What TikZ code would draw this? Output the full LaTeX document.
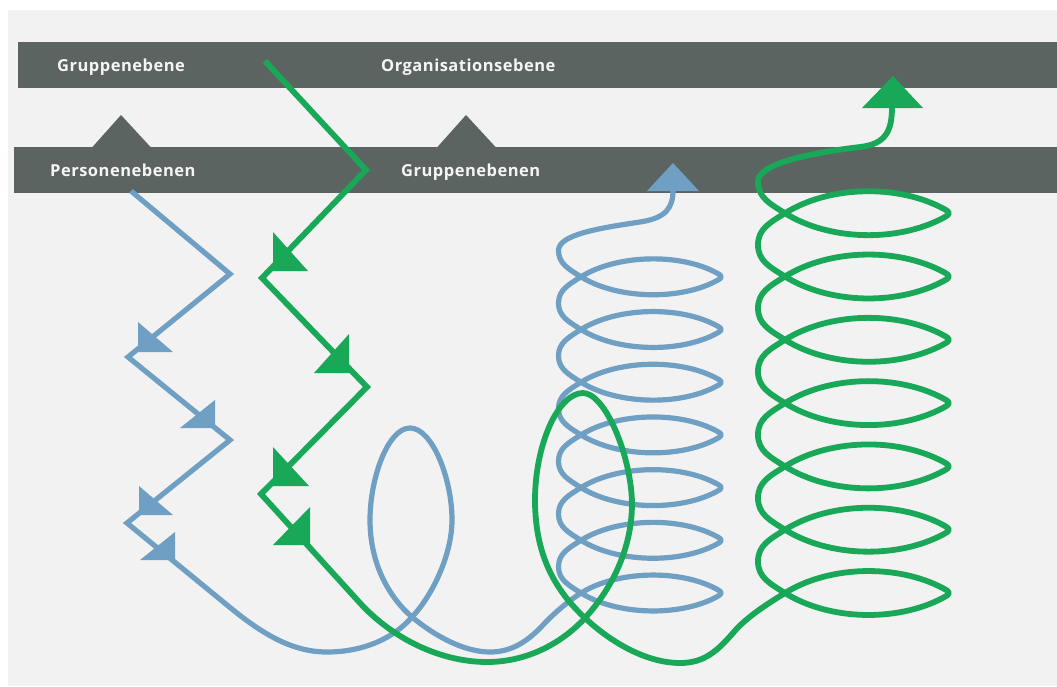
\documentclass[tikz,border=0pt]{standalone}
\usepackage{fontspec}
\setmainfont{Open Sans}[LetterSpace=3]
\definecolor{paper}{HTML}{F2F2F2}
\definecolor{bargray}{HTML}{5C6462}
\definecolor{labeltext}{HTML}{F5F5F5}
\definecolor{bluec}{HTML}{6F9FC2}
\definecolor{greenc}{HTML}{19A858}
\tikzset{
  levelbar/.style={fill=bargray},
  lbl/.style={text=labeltext, font=\bfseries\fontsize{16.5}{19}\selectfont, inner sep=0pt, anchor=base west},
  blueline/.style={draw=bluec, line width=5.2pt},
  greenline/.style={draw=greenc, line width=5.8pt},
  bluecoil/.style={blueline, line join=round},
  greencoil/.style={greenline, line join=round},
  bluehead/.style={fill=bluec},
  greenhead/.style={fill=greenc}
}
% coil geometry: crossing x, tip x, leftmost x, lowest crossing y, pitch,
% lens control length, lens angles at crossing / near tip,
% tip rounding (inset, half height, control length), left-arc control lengths
\def\bXc{581}\def\bXt{724}\def\bXl{558.5}\def\bY{593}\def\bP{52.7}
\def\bA{42}\def\bAl{32}\def\bBe{28}
\def\bT{8}\def\bH{4.25}\def\bK{8}\def\bC{15}\def\bD{13}
\def\gXc{785}\def\gXt{952}\def\gXl{758}\def\gY{593}\def\gP{63.3}
\def\gA{52}\def\gAl{32}\def\gBe{28}
\def\gT{9}\def\gH{4.8}\def\gK{9}\def\gC{18}\def\gD{16}
\begin{document}
\begin{tikzpicture}[x=1pt,y=-1pt]
\useasboundingbox (0,0) rectangle (1057,686);
% canvas
\fill[white] (0,0) rectangle (1057,686);
\fill[paper] (8,10) rectangle (1057,686);

% level bars with their small pointers
\fill[levelbar] (18,42) rectangle (1057,88);
\fill[levelbar] (14,147) rectangle (1057,193);
\fill[levelbar] (92,147.5) -- (121,115) -- (151,147.5) -- cycle;
\fill[levelbar] (437,147.5) -- (466,115) -- (496,147.5) -- cycle;

\node[lbl] (upperleft)  at (57,71)  {Gruppenebene};
\node[lbl] (upperright) at (381,71) {Organisationsebene};
\node[lbl] (lowerleft)  at (50,176) {Personenebenen};
\node[lbl] (lowerright) at (401,176) {Gruppenebenen};

% ---------------- blue path ----------------
\coordinate (p0) at (131,191);
\coordinate (p1) at (230,274);
\coordinate (p2) at (128,357);
\coordinate (p3) at (230,440);
\coordinate (p4) at (127,523);
\coordinate (p5) at (227,605);
\coordinate (bc) at (\bXc,\bY);
\draw[blueline] (p0) -- (p1) -- (p2) -- (p3) -- (p4) -- (p5)
  .. controls (262,634) and (292,652) .. (327,652)
  .. controls (365,652) and (395,637) .. (412,617)
  .. controls (432,596) and (452,555) .. (452,520)
  .. controls (452,478) and (432,428) .. (410,428)
  .. controls (388,428) and (370,478) .. (370,520)
  .. controls (370,565) and (390,598) .. (412,617)
  .. controls (436,637) and (465,652) .. (490,652)
  .. controls (512,652) and (528,641) .. (543,625)
  .. controls (555,612) and ({\bXc-12*cos(\bAl)},{\bY+12*sin(\bAl)}) .. (bc);
% blue coil: seven lenses joined by rounded left arcs
\draw[bluecoil] (bc)
  \foreach \k [evaluate=\k as \yy using \bY-\bP*\k] in {0,...,5} {
    .. controls ({\bXc+\bA*cos(\bAl)},{\yy-\bA*sin(\bAl)}) and ({\bXt-\bT-\bA*cos(\bBe)},{\yy-\bH-\bA*sin(\bBe)}) .. ({\bXt-\bT},{\yy-\bH})
    .. controls ({\bXt-\bT+\bK*cos(\bBe)},{\yy-\bH+\bK*sin(\bBe)}) and ({\bXt-\bT+\bK*cos(\bBe)},{\yy+\bH-\bK*sin(\bBe)}) .. ({\bXt-\bT},{\yy+\bH})
    .. controls ({\bXt-\bT-\bA*cos(\bBe)},{\yy+\bH+\bA*sin(\bBe)}) and ({\bXc+\bA*cos(\bAl)},{\yy+\bA*sin(\bAl)}) .. (\bXc,\yy)
    .. controls ({\bXc-\bC*cos(\bAl)},{\yy-\bC*sin(\bAl)}) and (\bXl,{\yy-\bP/2+\bD}) .. (\bXl,{\yy-\bP/2})
    .. controls (\bXl,{\yy-\bP/2-\bD}) and ({\bXc-\bC*cos(\bAl)},{\yy-\bP+\bC*sin(\bAl)}) .. (\bXc,{\yy-\bP})
  }
  \foreach \yy in {\bY-6*\bP} {
    .. controls ({\bXc+\bA*cos(\bAl)},{\yy-\bA*sin(\bAl)}) and ({\bXt-\bT-\bA*cos(\bBe)},{\yy-\bH-\bA*sin(\bBe)}) .. ({\bXt-\bT},{\yy-\bH})
    .. controls ({\bXt-\bT+\bK*cos(\bBe)},{\yy-\bH+\bK*sin(\bBe)}) and ({\bXt-\bT+\bK*cos(\bBe)},{\yy+\bH-\bK*sin(\bBe)}) .. ({\bXt-\bT},{\yy+\bH})
    .. controls ({\bXt-\bT-\bA*cos(\bBe)},{\yy+\bH+\bA*sin(\bBe)}) and ({\bXc+\bA*cos(\bAl)},{\yy+\bA*sin(\bAl)}) .. (\bXc,\yy)
    .. controls ({\bXc-\bC*cos(\bAl)},{\yy-\bC*sin(\bAl)}) and (\bXl,{\yy-\bP/2+\bD}) .. (\bXl,{\yy-\bP/2})
    .. controls (\bXl,{\yy-\bP/2-16}) and (600,228) .. (640,222)
  }
  .. controls (666,218) and (673,208) .. (673,190);
\fill[bluehead] (138,352) -- (138,322) -- (173,352) -- cycle;
\fill[bluehead] (215,428) -- (215,400) -- (180,428) -- cycle;
\fill[bluehead] (139,515) -- (139,486) -- (173,515) -- cycle;
\fill[bluehead] (175,560) -- (175,532) -- (140,560) -- cycle;
\fill[bluehead] (673,163) -- (647,191) -- (699,191) -- cycle;

% ---------------- green path ----------------
\coordinate (q0) at (265,61);
\coordinate (q1) at (366,170);
\coordinate (q2) at (262,278);
\coordinate (q3) at (367,387);
\coordinate (q4) at (261,494);
\coordinate (q5) at (360,603);
\coordinate (gc) at (\gXc,\gY);
\draw[greenline] (q0) -- (q1) -- (q2) -- (q3) -- (q4) -- (q5)
  .. controls (392,638) and (440,662) .. (487,662)
  .. controls (525,662) and (560,645) .. (585,618)
  .. controls (615,585) and (632,545) .. (632,503)
  .. controls (631,455) and (605,393) .. (583,393)
  .. controls (558,393) and (535,445) .. (535,500)
  .. controls (535,555) and (555,590) .. (585,618)
  .. controls (615,646) and (650,663) .. (680,663)
  .. controls (705,663) and (718,650) .. (733,633)
  .. controls (747,616) and ({\gXc-15*cos(\gAl)},{\gY+15*sin(\gAl)}) .. (gc);
% green coil
\draw[greencoil] (gc)
  \foreach \k [evaluate=\k as \yy using \gY-\gP*\k] in {0,...,5} {
    .. controls ({\gXc+\gA*cos(\gAl)},{\yy-\gA*sin(\gAl)}) and ({\gXt-\gT-\gA*cos(\gBe)},{\yy-\gH-\gA*sin(\gBe)}) .. ({\gXt-\gT},{\yy-\gH})
    .. controls ({\gXt-\gT+\gK*cos(\gBe)},{\yy-\gH+\gK*sin(\gBe)}) and ({\gXt-\gT+\gK*cos(\gBe)},{\yy+\gH-\gK*sin(\gBe)}) .. ({\gXt-\gT},{\yy+\gH})
    .. controls ({\gXt-\gT-\gA*cos(\gBe)},{\yy+\gH+\gA*sin(\gBe)}) and ({\gXc+\gA*cos(\gAl)},{\yy+\gA*sin(\gAl)}) .. (\gXc,\yy)
    .. controls ({\gXc-\gC*cos(\gAl)},{\yy-\gC*sin(\gAl)}) and (\gXl,{\yy-\gP/2+\gD}) .. (\gXl,{\yy-\gP/2})
    .. controls (\gXl,{\yy-\gP/2-\gD}) and ({\gXc-\gC*cos(\gAl)},{\yy-\gP+\gC*sin(\gAl)}) .. (\gXc,{\yy-\gP})
  }
  \foreach \yy in {\gY-6*\gP} {
    .. controls ({\gXc+\gA*cos(\gAl)},{\yy-\gA*sin(\gAl)}) and ({\gXt-\gT-\gA*cos(\gBe)},{\yy-\gH-\gA*sin(\gBe)}) .. ({\gXt-\gT},{\yy-\gH})
    .. controls ({\gXt-\gT+\gK*cos(\gBe)},{\yy-\gH+\gK*sin(\gBe)}) and ({\gXt-\gT+\gK*cos(\gBe)},{\yy+\gH-\gK*sin(\gBe)}) .. ({\gXt-\gT},{\yy+\gH})
    .. controls ({\gXt-\gT-\gA*cos(\gBe)},{\yy+\gH+\gA*sin(\gBe)}) and ({\gXc+\gA*cos(\gAl)},{\yy+\gA*sin(\gAl)}) .. (\gXc,\yy)
    .. controls ({\gXc-\gC*cos(\gAl)},{\yy-\gC*sin(\gAl)}) and (\gXl,{\yy-\gP/2+\gD}) .. (\gXl,{\yy-\gP/2})
    .. controls (\gXl,{\yy-\gP/2-18}) and (810,153) .. (860,147)
  }
  .. controls (885,144) and (892,132) .. (892,107);
\fill[greenhead] (273,271) -- (273,232) -- (308,271) -- cycle;
\fill[greenhead] (349,373) -- (349,334) -- (314,373) -- cycle;
\fill[greenhead] (273,486) -- (273,447) -- (309,486) -- cycle;
\fill[greenhead] (310,545) -- (310,507) -- (273,545) -- cycle;
\fill[greenhead] (893,76) -- (862,108) -- (923,108) -- cycle;
\end{tikzpicture}
\end{document}
